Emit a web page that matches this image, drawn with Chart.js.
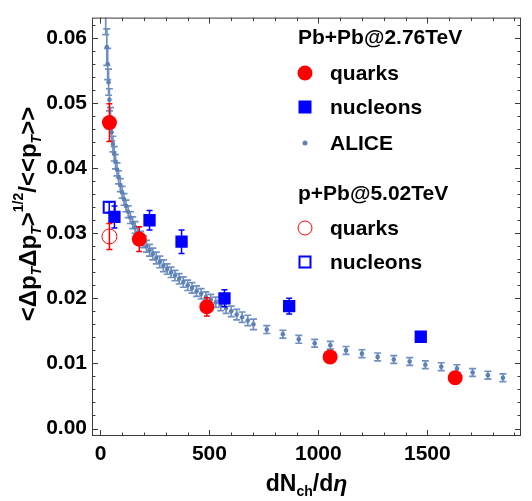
<!DOCTYPE html>
<html>
<head>
<meta charset="utf-8">
<script src="https://cdn.jsdelivr.net/npm/chart.js@4.4.1/dist/chart.umd.min.js"></script>
<style>
  html, body { margin: 0; padding: 0; background: #fff; }
</style>
</head>
<body>
<canvas id="chart" width="532" height="501"></canvas>
<script>
// ALICE Pb+Pb 2.76 TeV
const aliceX = [24, 29, 33, 37, 41, 46, 51, 57, 63, 69, 76, 83, 91, 99, 108, 117, 127, 137, 148, 159,
  171, 184, 197, 211, 225, 240, 256, 272, 289, 306, 324, 342, 361, 380, 400, 420, 441, 462, 484, 506,
  529, 552, 576, 600, 625, 650, 676, 702,
  763, 837, 910, 983, 1055, 1127, 1200, 1272, 1346, 1419, 1491, 1564, 1636, 1708, 1778, 1847];
const aliceY = [0.0640, 0.0586, 0.0560, 0.0532, 0.0505, 0.0478, 0.0455, 0.0437, 0.0422, 0.0410, 0.0398, 0.0386, 0.0374, 0.0363, 0.0352, 0.0342, 0.0333, 0.0324, 0.0316, 0.0309,
  0.0301, 0.0294, 0.0287, 0.0280, 0.0274, 0.0268, 0.0262, 0.0256, 0.0250, 0.0245, 0.0240, 0.0235, 0.0230, 0.0225, 0.0220, 0.0216, 0.0211, 0.0207, 0.0202, 0.0198,
  0.0194, 0.0189, 0.0185, 0.0180, 0.0175, 0.0171, 0.0166, 0.0160,
  0.0152, 0.0145, 0.0137, 0.0131, 0.0128, 0.0120, 0.0115, 0.0110, 0.0106, 0.0103, 0.0098, 0.0095, 0.0092, 0.0086, 0.0082, 0.0078];
const aliceErr = [0.0035, 0.0028, 0.0024, 0.0020, 0.0017, 0.0015, 0.0013, 0.0012, 0.0011, 0.0011, 0.0010, 0.0010, 0.0010, 0.0009, 0.0009, 0.0009, 0.0009, 0.0009, 0.0009, 0.0009,
  0.0009, 0.0009, 0.0009, 0.0009, 0.0009, 0.0009, 0.0009, 0.0009, 0.0009, 0.0008, 0.0008, 0.0008, 0.0008, 0.0008, 0.0008, 0.0008, 0.0008, 0.0008, 0.0008, 0.0008,
  0.0008, 0.0008, 0.0008, 0.0008, 0.0008, 0.0008, 0.0008, 0.0008,
  0.0006, 0.0006, 0.0006, 0.0006, 0.0006, 0.0006, 0.0006, 0.0006, 0.0006, 0.0006, 0.0006, 0.0006, 0.0006, 0.0006, 0.0006, 0.0006];

// model, Pb+Pb 2.76 TeV
const quarkX = [41, 178, 488, 1054, 1628];
const quarkY = [0.0470, 0.0291, 0.0187, 0.0110, 0.0078];
const quarkErr = [0.0029, 0.0019, 0.0014, 0.0006, 0.0006];
const nucleonX = [64, 225, 372, 569, 866, 1470];
const nucleonY = [0.0325, 0.0320, 0.0287, 0.0200, 0.0188, 0.0141];
const nucleonErr = [0.0017, 0.0015, 0.0018, 0.0013, 0.0012, 0.0004];

// model, p+Pb 5.02 TeV
const pQuarkX = [41];
const pQuarkY = [0.0295];
const pQuarkErr = [0.0020];
const pNucleonX = [40];
const pNucleonY = [0.0340];
const pNucleonErr = [0.0008];

const xTicks = [0, 500, 1000, 1500];
const yTicks = [0, 0.01, 0.02, 0.03, 0.04, 0.05, 0.06];

const FONT = '"Liberation Sans", Arial, sans-serif';
const ALICE_COL = '#5e81b5';

const pts = (xs, ys) => xs.map((x, i) => ({ x, y: ys[i] }));

// error bars drawn under each dataset's markers
const errorBars = {
  id: 'errorBars',
  beforeDatasetDraw(chart, args) {
    const ds = chart.data.datasets[args.index];
    if (!ds.err) return;
    const { ctx, chartArea: a, scales: { x, y } } = chart;
    ctx.save();
    ctx.beginPath();
    ctx.rect(a.left, a.top, a.right - a.left, a.bottom - a.top);
    ctx.clip();
    ctx.strokeStyle = ds.errColor;
    ctx.lineWidth = ds.errWidth || 1.5;
    ds.data.forEach((p, i) => {
      const px = x.getPixelForValue(p.x);
      const y1 = y.getPixelForValue(p.y + ds.err[i]);
      const y2 = y.getPixelForValue(p.y - ds.err[i]);
      const c = ds.cap || 3;
      ctx.beginPath();
      ctx.moveTo(px, y1); ctx.lineTo(px, y2);
      ctx.moveTo(px - c, y1); ctx.lineTo(px + c, y1);
      ctx.moveTo(px - c, y2); ctx.lineTo(px + c, y2);
      ctx.stroke();
    });
    ctx.restore();
  }
};

function drawRich(ctx, parts, x, y) {
  let w = 0;
  parts.forEach(p => { ctx.font = p.f; w += ctx.measureText(p.t).width; });
  let cx = x - w / 2;
  parts.forEach(p => {
    ctx.font = p.f;
    ctx.fillText(p.t, cx, y + (p.dy || 0));
    cx += ctx.measureText(p.t).width;
  });
}

// frame with inward ticks, axis titles and the legend
const decorations = {
  id: 'decorations',
  afterDraw(chart) {
    const { ctx, chartArea: a, scales: { x, y } } = chart;
    ctx.save();
    ctx.strokeStyle = '#3a3a3a';
    ctx.lineWidth = 1;
    ctx.strokeRect(a.left + 0.5, a.top + 0.5, a.right - a.left - 1, a.bottom - a.top - 1);
    ctx.beginPath();
    for (let v = 0; v <= 1900; v += 100) {
      const px = Math.round(x.getPixelForValue(v)) + 0.5;
      const len = v % 500 === 0 ? 6 : 3.5;
      ctx.moveTo(px, a.bottom); ctx.lineTo(px, a.bottom - len);
      ctx.moveTo(px, a.top); ctx.lineTo(px, a.top + len);
    }
    for (let k = 0; k <= 31; k++) {
      const v = k * 0.002;
      const py = Math.round(y.getPixelForValue(v)) + 0.5;
      const len = k % 5 === 0 ? 6 : 3.5;
      ctx.moveTo(a.left, py); ctx.lineTo(a.left + len, py);
      ctx.moveTo(a.right, py); ctx.lineTo(a.right - len, py);
    }
    ctx.stroke();

    ctx.fillStyle = '#000';
    ctx.textBaseline = 'alphabetic';
    const B = 'bold 23px ' + FONT, S = 'bold 14px ' + FONT;
    const SI = 'italic bold 14px ' + FONT, I = 'italic bold 23px ' + FONT;
    const BY = 'bold 24px ' + FONT;
    // x title
    drawRich(ctx, [
      { t: 'dN', f: B }, { t: 'ch', f: S, dy: 5 }, { t: '/d', f: B }, { t: 'η', f: I }
    ], (a.left + a.right) / 2, 491);
    // y title
    ctx.save();
    ctx.translate(36, 214);
    ctx.rotate(-Math.PI / 2);
    drawRich(ctx, [
      { t: '<Δp', f: BY }, { t: 'T', f: SI, dy: 5 }, { t: 'Δp', f: BY }, { t: 'T', f: SI, dy: 5 },
      { t: '>', f: BY }, { t: '1/2', f: S, dy: -13 }, { t: '/<<p', f: BY }, { t: 'T', f: SI, dy: 5 },
      { t: '>>', f: BY }
    ], 0, 0);
    ctx.restore();

    // legend
    const L = 'bold 21px ' + FONT;
    ctx.textBaseline = 'middle';
    ctx.font = L;
    const mx = 305, tx = 330;
    ctx.fillText('Pb+Pb@2.76TeV', 298, 38);
    ctx.fillText('quarks', tx, 74);
    ctx.fillText('nucleons', tx, 108);
    ctx.fillText('ALICE', tx, 144);
    ctx.fillText('p+Pb@5.02TeV', 298, 194);
    ctx.fillText('quarks', tx, 229);
    ctx.fillText('nucleons', tx, 263);

    ctx.fillStyle = '#ff0000';
    ctx.beginPath(); ctx.arc(mx, 73, 7.5, 0, Math.PI * 2); ctx.fill();
    ctx.fillStyle = '#0000ff';
    ctx.fillRect(mx - 6.5, 107 - 6.5, 13, 13);
    ctx.fillStyle = ALICE_COL;
    ctx.beginPath(); ctx.arc(mx, 143, 2.5, 0, Math.PI * 2); ctx.fill();
    ctx.strokeStyle = '#ff0000'; ctx.lineWidth = 1;
    ctx.beginPath(); ctx.arc(mx, 228, 7, 0, Math.PI * 2); ctx.stroke();
    ctx.strokeStyle = '#0000ff'; ctx.lineWidth = 2;
    ctx.strokeRect(mx - 5.5, 262 - 5.5, 11, 11);
    ctx.restore();
  }
};

new Chart(document.getElementById('chart'), {
  type: 'scatter',
  data: {
    datasets: [
      { label: 'p+Pb quarks', data: pts(pQuarkX, pQuarkY), err: pQuarkErr, errColor: '#ff0000', cap: 3,
        pointStyle: 'circle', radius: 7.5, backgroundColor: 'rgba(0,0,0,0)', borderColor: '#ff0000', borderWidth: 1, order: 1 },
      { label: 'p+Pb nucleons', data: pts(pNucleonX, pNucleonY), err: pNucleonErr, errColor: '#0000ff', cap: 3,
        pointStyle: 'rect', radius: 7.8, backgroundColor: 'rgba(0,0,0,0)', borderColor: '#0000ff', borderWidth: 2, order: 2 },
      { label: 'quarks', data: pts(quarkX, quarkY), err: quarkErr, errColor: '#ff0000', cap: 3,
        pointStyle: 'circle', radius: 7.5, backgroundColor: '#ff0000', borderWidth: 0, order: 3 },
      { label: 'nucleons', data: pts(nucleonX, nucleonY), err: nucleonErr, errColor: '#0000ff', cap: 3,
        pointStyle: 'rect', radius: 8.7, backgroundColor: '#0000ff', borderWidth: 0, order: 4 },
      { label: 'ALICE', data: pts(aliceX, aliceY), err: aliceErr, errColor: '#6f90c2', cap: 3.5, errWidth: 1.7,
        pointStyle: 'circle', radius: 2.3, backgroundColor: ALICE_COL, borderWidth: 0, order: 5 }
    ]
  },
  options: {
    responsive: false,
    devicePixelRatio: 1,
    animation: false,
    layout: { padding: { top: 4, right: 11, left: 0, bottom: 0 } },
    plugins: { legend: { display: false }, tooltip: { enabled: false } },
    elements: { point: { hoverRadius: 0 } },
    scales: {
      x: {
        type: 'linear', min: -39, max: 1930,
        afterFit: s => { s.height = 65; },
        afterBuildTicks: s => { s.ticks = xTicks.map(v => ({ value: v })); },
        grid: { display: false, drawTicks: false },
        border: { display: false },
        ticks: { color: '#000', padding: 6, font: { family: FONT, size: 21, weight: 'bold' },
          callback: v => String(v) }
      },
      y: {
        type: 'linear', min: -0.00115, max: 0.06313,
        afterFit: s => { s.width = 92; },
        afterBuildTicks: s => { s.ticks = yTicks.map(v => ({ value: v })); },
        grid: { display: false, drawTicks: false },
        border: { display: false },
        ticks: { color: '#000', padding: 5, font: { family: FONT, size: 21, weight: 'bold' },
          callback: v => v.toFixed(2) }
      }
    }
  },
  plugins: [errorBars, decorations]
});
</script>
</body>
</html>
